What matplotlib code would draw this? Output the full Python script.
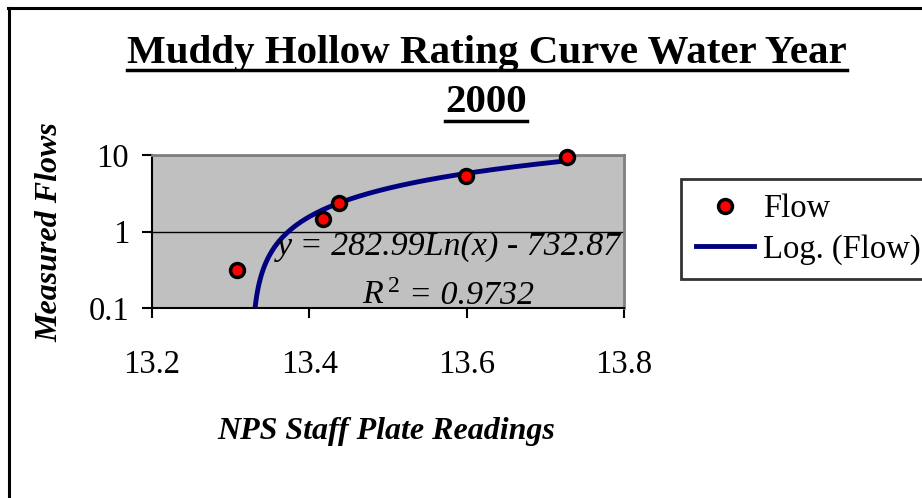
import numpy as np
import matplotlib
matplotlib.use("Agg")
import matplotlib.pyplot as plt
from matplotlib.lines import Line2D
from matplotlib.ticker import FixedLocator, FixedFormatter, NullLocator

# ---- data ----
staff_readings = [13.308, 13.417, 13.438, 13.599, 13.728]
measured_flows = [0.314, 1.46, 2.36, 5.36, 9.33]
trend_a = 282.99
trend_b = -732.87
x_ticks = [13.2, 13.4, 13.6, 13.8]
x_tick_labels = ["13.2", "13.4", "13.6", "13.8"]
y_ticks = [0.1, 1, 10]
y_tick_labels = ["0.1", "1", "10"]
title_lines = ["Muddy Hollow Rating Curve Water Year", "2000"]
x_label = "NPS Staff Plate Readings"
y_label = "Measured Flows"
series_name = "Flow"
trend_name = "Log. (Flow)"
eq_text = "y = 282.99Ln(x) - 732.87"
r2_text = "= 0.9732"

plt.rcParams["font.family"] = ["Liberation Serif", "DejaVu Serif"]
plt.rcParams["mathtext.fontset"] = "custom"
plt.rcParams["mathtext.rm"] = "Liberation Serif"
plt.rcParams["mathtext.it"] = "Liberation Serif:italic"

W, H = 922, 498
fig = plt.figure(figsize=(W / 100, H / 100), dpi=100)
fig.patch.set_facecolor("white")

def fx(px):
    return px / W

def fy(py):
    return 1 - py / H

# figure border (top and left visible)
fig.add_artist(Line2D([fx(8), fx(930)], [fy(8.5), fy(8.5)], color="black", lw=2.2))
fig.add_artist(Line2D([fx(8.5), fx(8.5)], [fy(8), fy(505)], color="black", lw=2.2))

ax = fig.add_axes([fx(152), fy(308), (624 - 152) / W, (308 - 155) / H])
ax.set_facecolor("#C0C0C0")
ax.set_yscale("log")
ax.set_xlim(13.2, 13.8)
ax.set_ylim(0.1, 10)

ax.xaxis.set_major_locator(FixedLocator(x_ticks))
ax.xaxis.set_major_formatter(FixedFormatter(x_tick_labels))
ax.yaxis.set_major_locator(FixedLocator(y_ticks))
ax.yaxis.set_major_formatter(FixedFormatter(y_tick_labels))
ax.xaxis.set_minor_locator(NullLocator())
ax.yaxis.set_minor_locator(NullLocator())

ax.tick_params(axis="x", direction="out", length=7, width=1.5, pad=23, labelsize=23.5)
ax.tick_params(axis="y", direction="out", length=7.5, width=1.5, pad=9, labelsize=23.5)
ax.yaxis.grid(True, which="major", color="black", lw=1)
ax.set_axisbelow(True)

for s in ["left", "bottom"]:
    ax.spines[s].set_color("black")
    ax.spines[s].set_linewidth(1.5)
for s in ["top", "right"]:
    ax.spines[s].set_color("#808080")
    ax.spines[s].set_linewidth(2)

# trendline
xt = np.linspace(min(staff_readings), max(staff_readings), 600)
yt = trend_a * np.log(xt) + trend_b
yt = np.where(yt > 0, yt, np.nan)
trend_line, = ax.plot(xt, yt, color="#000080", lw=3.5, zorder=3)

pts, = ax.plot(staff_readings, measured_flows, linestyle="none", marker="o",
               markersize=10, markerfacecolor="red", markeredgecolor="black",
               markeredgewidth=2.5, zorder=4, clip_on=False)

# labels
fig.text(fx(386), fy(431), x_label, fontsize=23, fontweight="bold", fontstyle="italic",
         ha="center", va="center")
fig.text(fx(50), fy(232), y_label, fontsize=23, fontweight="bold", fontstyle="italic",
         ha="center", va="center", rotation=90)

# equation
fig.text(fx(277), fy(247), eq_text, fontsize=24.5, fontstyle="italic", ha="left", va="center")
fig.text(fx(362), fy(296), r"$R^{\,2}$", fontsize=24.5, fontstyle="italic", ha="left", va="center")
fig.text(fx(409), fy(296), r2_text, fontsize=24.5, fontstyle="italic", ha="left", va="center")

# title
t1 = fig.text(fx(487), fy(53), title_lines[0], fontsize=29.5, fontweight="bold",
              ha="center", va="center")
t2 = fig.text(fx(486), fy(103), title_lines[1], fontsize=29.5, fontweight="bold",
              ha="center", va="center")

# legend
leg = fig.legend([pts, trend_line], [series_name, trend_name], loc="upper left",
                 bbox_to_anchor=(fx(681), fy(179)), fontsize=23.5, frameon=True,
                 fancybox=False, handlelength=1.8, handletextpad=0.25,
                 borderpad=0.45, labelspacing=0.3, borderaxespad=0)
leg.get_frame().set_edgecolor("black")
leg.get_frame().set_linewidth(2)

# underline title lines
fig.canvas.draw()
r = fig.canvas.get_renderer()
for t, uy in [(t1, 70), (t2, 121)]:
    bb = t.get_window_extent(renderer=r)
    fig.add_artist(Line2D([bb.x0 / W, bb.x1 / W], [fy(uy), fy(uy)], color="black", lw=2.5))

fig.savefig("out.png", dpi=100)
